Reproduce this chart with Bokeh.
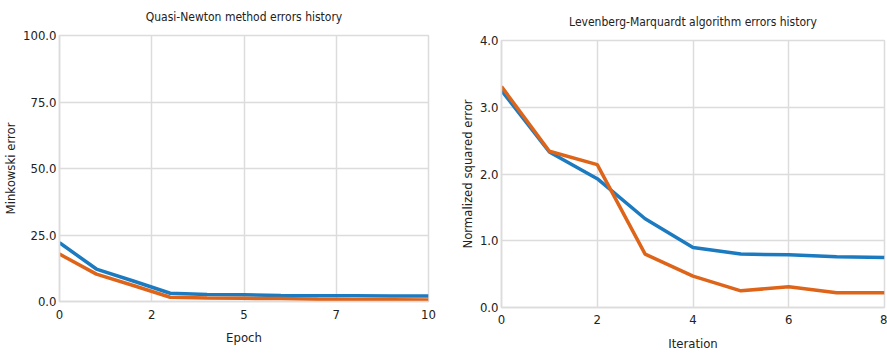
from bokeh.plotting import figure
from bokeh.layouts import row, column
from bokeh.models import FixedTicker, PrintfTickFormatter, Range1d
from bokeh.embed import file_html
from bokeh.resources import INLINE

# Quasi-Newton data
qn_epoch = [0, 1, 2, 3, 4, 5, 6, 7, 8, 9, 10]
qn_blue = [22.1, 12.2, 7.7, 3.1, 2.6, 2.5, 2.3, 2.2, 2.2, 2.1, 2.1]
qn_orange = [17.8, 10.3, 6.0, 1.6, 1.3, 1.2, 1.1, 0.8, 0.7, 0.7, 0.6]
qn_xticks = [0, 2.5, 5, 7.5, 10]
qn_xlabels = ["0", "2", "5", "7", "10"]
qn_yticks = [0, 25, 50, 75, 100]

# Levenberg-Marquardt data
lm_iter = [0, 1, 2, 3, 4, 5, 6, 7, 8]
lm_blue = [3.25, 2.33, 1.93, 1.33, 0.90, 0.80, 0.79, 0.76, 0.75]
lm_orange = [3.31, 2.34, 2.14, 0.80, 0.47, 0.25, 0.31, 0.22, 0.22]
lm_xticks = [0, 2, 4, 6, 8]
lm_yticks = [0, 1, 2, 3, 4]

BLUE = "#1c7ac0"
ORANGE = "#de641a"
FONT = "'DejaVu Sans Condensed', 'DejaVu Sans'"
TXT = "#222222"
GRID = "#dcdcdc"


def style(p, title_standoff, tick_standoff_x, label_standoff_x):
    p.title.text_font = FONT
    p.title.text_font_size = "12px"
    p.title.text_font_style = "normal"
    p.title.text_color = TXT
    p.title.align = "center"
    p.title.vertical_align = "top"
    p.title.standoff = title_standoff
    for ax in (p.xaxis[0], p.yaxis[0]):
        ax.axis_label_text_font = FONT
        ax.axis_label_text_font_size = "13px"
        ax.axis_label_text_font_style = "normal"
        ax.axis_label_text_color = TXT
        ax.major_label_text_font = FONT
        ax.major_label_text_font_size = "13px"
        ax.major_label_text_color = TXT
        ax.axis_line_color = GRID
        ax.axis_line_width = 1.5
        ax.major_tick_line_color = None
        ax.minor_tick_line_color = None
        ax.major_tick_out = 0
        ax.major_tick_in = 0
        ax.minor_tick_out = 0
        ax.minor_tick_in = 0
    p.yaxis.major_label_standoff = 3
    p.yaxis.axis_label_standoff = 2
    p.xaxis.major_label_standoff = tick_standoff_x
    p.xaxis.axis_label_standoff = label_standoff_x
    p.grid.grid_line_color = GRID
    p.grid.grid_line_width = 1.5
    p.outline_line_color = GRID
    p.outline_line_width = 1.5


p1 = figure(width=440, height=354, output_backend="svg", toolbar_location=None,
            title="Quasi-Newton method errors history",
            x_range=Range1d(0, 10), y_range=Range1d(0, 100),
            min_border_left=58, min_border_right=12, min_border_top=34,
            min_border_bottom=53)
p1.line(qn_epoch, qn_blue, line_color=BLUE, line_width=3.5)
p1.line(qn_epoch, qn_orange, line_color=ORANGE, line_width=3.5)
p1.xaxis.ticker = FixedTicker(ticks=qn_xticks)
p1.xaxis.major_label_overrides = {t: l for t, l in zip(qn_xticks, qn_xlabels)}
p1.yaxis.ticker = FixedTicker(ticks=qn_yticks)
p1.yaxis.formatter = PrintfTickFormatter(format="%.1f")
p1.xaxis.axis_label = "Epoch"
p1.yaxis.axis_label = "Minkowski error"
style(p1, 19, 8, 8)

p2 = figure(width=447, height=354, output_backend="svg", toolbar_location=None,
            title="Levenberg-Marquardt algorithm errors history",
            x_range=Range1d(0, 8), y_range=Range1d(0, 4),
            min_border_left=61, min_border_right=3, min_border_top=40,
            min_border_bottom=47)
p2.line(lm_iter, lm_blue, line_color=BLUE, line_width=3.5)
p2.line(lm_iter, lm_orange, line_color=ORANGE, line_width=3.5)
p2.xaxis.ticker = FixedTicker(ticks=lm_xticks)
p2.yaxis.ticker = FixedTicker(ticks=lm_yticks)
p2.yaxis.formatter = PrintfTickFormatter(format="%.1f")
p2.xaxis.axis_label = "Iteration"
p2.yaxis.axis_label = "Normalized squared error"
style(p2, 20, 7, 9)

layout = row(column(p1), column(p2))
open("out.html", "w").write(file_html(layout, INLINE))
